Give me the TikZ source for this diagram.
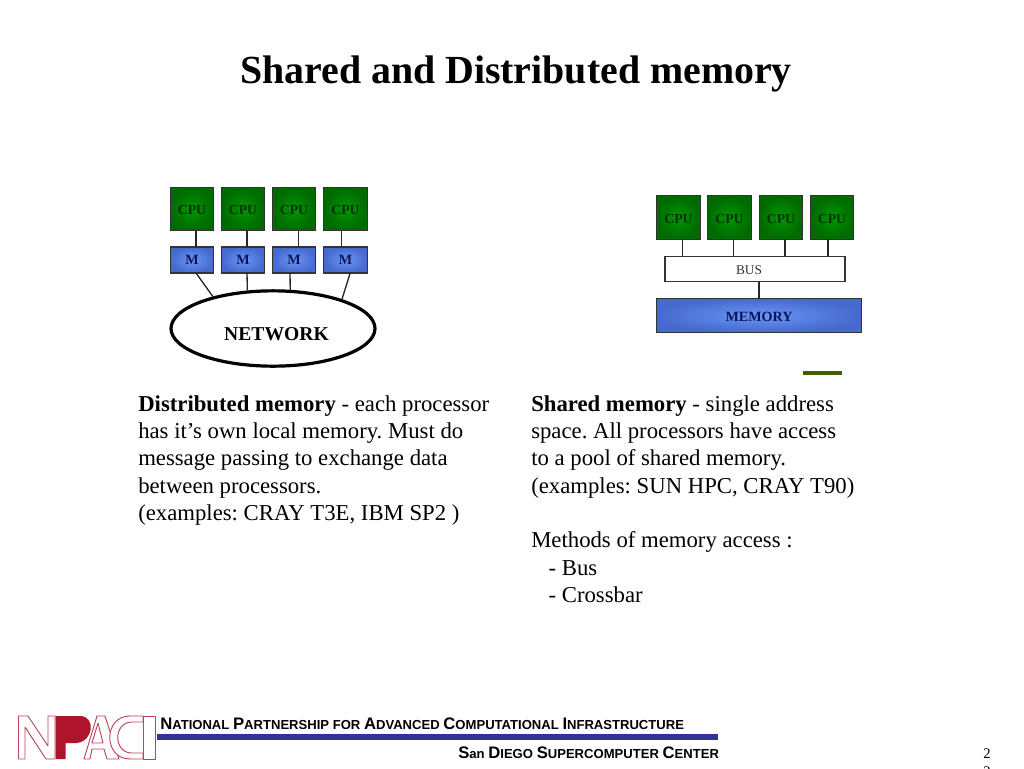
\documentclass[tikz,border=0pt]{standalone}
\usepackage{fontspec}
\setmainfont{Liberation Serif}
\newfontfamily\footfont{Liberation Sans}
\usetikzlibrary{shapes.geometric}
\definecolor{cpugreen}{RGB}{0,150,0}
\definecolor{cpuedge}{RGB}{0,105,0}
\definecolor{cputext}{RGB}{0,50,0}
\definecolor{memblue}{RGB}{105,150,245}
\definecolor{memedge}{RGB}{70,105,205}
\definecolor{memtext}{RGB}{10,20,90}
\definecolor{barblue}{RGB}{50,50,150}
\definecolor{logored}{RGB}{175,20,45}
\definecolor{dashgreen}{RGB}{65,95,10}
\newcommand{\smc}[2]{{\fontsize{12.5}{13}\selectfont #1}{\fontsize{9.8}{10}\selectfont #2}}
\tikzset{
    box/.style={draw=black!80, line width=0.9pt, inner sep=0pt, outer sep=0pt, font=\fontsize{10}{10}\selectfont},
    cpubox/.style={box, shade, inner color=cpugreen, outer color=cpuedge, text=cputext, text height=8.5pt, text depth=0pt, font=\bfseries\fontsize{10.3}{10}\selectfont, minimum width=32.5pt, minimum height=32.5pt},
    membox/.style={box, shade, inner color=memblue, outer color=memedge, text=memtext, font=\bfseries\fontsize{10.6}{10}\selectfont},
    wire/.style={black!85, line width=1pt},
    bodytext/.style={anchor=north west, align=left, inner sep=0pt, font=\fontsize{17.05}{20.5}\selectfont},
    foot/.style={anchor=base west, inner sep=0pt, font=\footfont\bfseries},
    logoline/.style={draw=logored!80, line width=0.7pt, fill=white, line join=round}
}
\begin{document}
\frenchspacing
\begin{tikzpicture}[x=0.75pt, y=-0.75pt]
    \clip (0,0) rectangle (1024,768);
    \fill[white] (0,0) rectangle (1024,768);

    % Title
    \node[inner sep=0pt] (title) at (516,74) {\bfseries\fontsize{29.9}{32}\selectfont Shared and Distributed memory};

    % Distributed memory
    \node[ellipse, draw=black, line width=2.4pt, fill=white, inner sep=0pt, minimum width=153pt, minimum height=56.5pt] (net) at (273,328.5) {};
    \node[inner sep=0pt, font=\bfseries\fontsize{14.7}{16}\selectfont] (netLabel) at (276.5,334) {NETWORK};
    \foreach \i/\x/\d in {1/192/4, 2/243/4, 3/294/4.5, 4/345.5/-4} {
        \node[cpubox] (cpuL\i) at (\x,209) {CPU};
        \node[membox, minimum width=32.5pt, minimum height=19.5pt] (mem\i) at (\x,260) {M};
        \draw[wire] ([xshift=\d*0.75pt]cpuL\i.south) -- ([xshift=\d*0.75pt]mem\i.north);
    }
    \draw[wire] ([xshift=3pt]mem1.south) -- (net.152);
    \draw[wire] ([xshift=3pt]mem2.south) -- (net.124);
    \draw[wire] ([xshift=-3pt]mem3.south) -- (net.66);
    \draw[wire] ([xshift=3.5pt]mem4.south) -- (net.23);

    % Shared memory
    \node[box, fill=white, minimum width=135pt, minimum height=19pt, text=black!80, text height=8.5pt, text depth=0pt] (bus) at (755,269) {\hspace*{-9pt}BUS};
    \node[membox, minimum width=154pt, minimum height=25.5pt, text height=8.5pt, text depth=0pt] (pool) at (759,315.5) {MEMORY};
    \foreach \i/\x/\d in {1/678.5/4, 2/729.5/4, 3/781/4, 4/832/-4} {
        \node[cpubox] (cpuR\i) at (\x,217.5) {CPU};
        \draw[wire] ([xshift=\d*0.75pt]cpuR\i.south) -- ([xshift=\d*0.75pt]cpuR\i.south |- bus.north);
    }
    \draw[wire] (pool.north) -- (pool.north |- bus.south);
    \coordinate (dashL) at (803,373);
    \coordinate (dashR) at (842,373);
    \draw[line width=2.6pt, dashgreen] (dashL) -- (dashR);

    % Text
    \node[bodytext] (distText) at (138,395) {\textbf{Distributed memory} - each processor\\has it’s own local memory. Must do\\message passing to exchange data\\between processors.\\(examples: CRAY T3E, IBM SP2 )};
    \node[bodytext] (sharedText) at (531,395) {\textbf{Shared memory} - single address\\space. All processors have access\\to a pool of shared memory.\\(examples: SUN HPC, CRAY T90)\\[20.5pt]Methods of memory access :\\\hspace*{13pt}- Bus\\\hspace*{13pt}- Crossbar};

    % Footer
    \fill[barblue] (157,734) rectangle (718,740);
    \node[foot] (footA) at (160,729) {\smc{N}{ATIONAL} \smc{P}{ARTNERSHIP FOR} \smc{A}{DVANCED} \smc{C}{OMPUTATIONAL} \smc{I}{NFRASTRUCTURE}};
    \node[foot] (footB) at (458,758) {\smc{S}{an} \smc{D}{IEGO} \smc{S}{UPERCOMPUTER} \smc{C}{ENTER}};
    \node[inner sep=0pt, font=\fontsize{11}{12}\selectfont] (pageA) at (987,754) {2};
    \node[inner sep=0pt, font=\fontsize{11}{12}\selectfont] (pageB) at (987,772) {3};

    % Logo
    \begin{scope}
        % N
        \draw[logoline] (18.5,716) -- (28,716) -- (48,746) -- (48,716) -- (55,716) -- (55,759) -- (46,759) -- (25,727) -- (25,759) -- (18.5,759) -- cycle;
        % P
        \fill[logored] (55.5,716) -- (80,716) .. controls (96,716) and (94,742) .. (76,743) -- (65.5,743) -- (65.5,759) -- (55.5,759) -- cycle;
        % A
        \draw[logoline] (84,759) -- (97,716) -- (105,716) -- (119,759) -- (107,759) -- (104,749) -- (92,749) -- (90,759) -- cycle;
        \draw[logoline] (92,743) -- (98,723) -- (103,743) -- cycle;
        % C
        \draw[logoline] (143,716) -- (130,716) .. controls (103,716) and (103,759) .. (130,759) -- (143,759) -- (143,753) -- (132,753) .. controls (113,753) and (113,722) .. (132,722) -- (143,722) -- cycle;
        % I
        \draw[logoline] (143,716) rectangle (155,759);
    \end{scope}
\end{tikzpicture}
\end{document}
